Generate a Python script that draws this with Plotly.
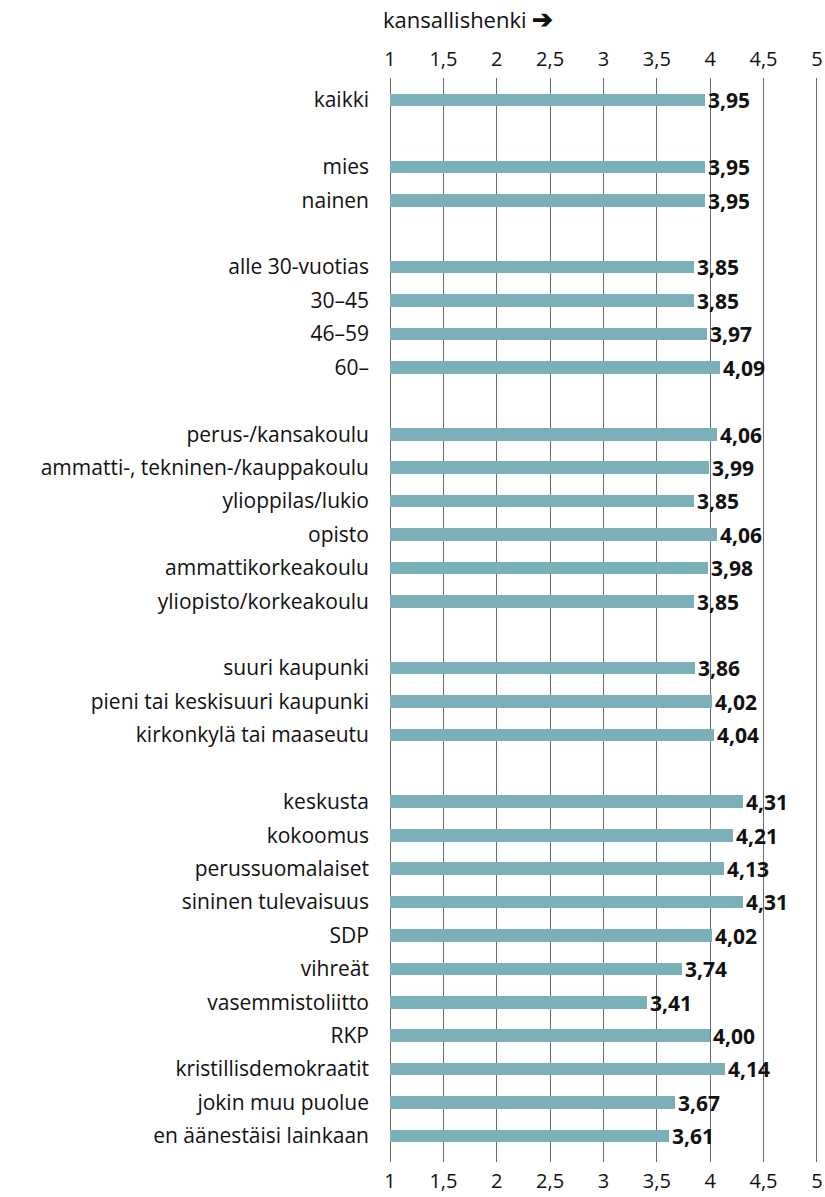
import plotly.graph_objects as go

categories = ["kaikki", "", "mies", "nainen", "",
              "alle 30-vuotias", "30–45", "46–59", "60–", "",
              "perus-/kansakoulu", "ammatti-, tekninen-/kauppakoulu", "ylioppilas/lukio",
              "opisto", "ammattikorkeakoulu", "yliopisto/korkeakoulu", "",
              "suuri kaupunki", "pieni tai keskisuuri kaupunki", "kirkonkylä tai maaseutu", "",
              "keskusta", "kokoomus", "perussuomalaiset", "sininen tulevaisuus", "SDP",
              "vihreät", "vasemmistoliitto", "RKP", "kristillisdemokraatit",
              "jokin muu puolue", "en äänestäisi lainkaan"]
values = [3.95, None, 3.95, 3.95, None,
          3.85, 3.85, 3.97, 4.09, None,
          4.06, 3.99, 3.85, 4.06, 3.98, 3.85, None,
          3.86, 4.02, 4.04, None,
          4.31, 4.21, 4.13, 4.31, 4.02, 3.74, 3.41, 4.00, 4.14, 3.67, 3.61]
tick_vals = [1, 1.5, 2, 2.5, 3, 3.5, 4, 4.5, 5]
tick_text = ["1", "1,5", "2", "2,5", "3", "3,5", "4", "4,5", "5"]
axis_title = "kansallishenki"
bar_base = 1

FONT = "Open Sans"
rows = list(range(len(categories)))
ys = [r for r, v in zip(rows, values) if v is not None]
xs = [v for v in values if v is not None]
labels = [f"{v:.2f}".replace(".", ",") for v in xs]

fig = go.Figure()
fig.add_trace(go.Bar(
    y=ys, x=[v - bar_base for v in xs], base=bar_base, orientation="h",
    marker=dict(color="#7CB0B8", line=dict(width=0)),
    width=0.38,
    text=labels, textposition="outside", cliponaxis=False, constraintext="none",
    textfont=dict(family=FONT, size=21, color="#111111", weight="bold"),
    hoverinfo="skip",
))
fig.add_trace(go.Scatter(x=[1, 5], y=[0, 0], xaxis="x2", mode="markers",
                         marker=dict(opacity=0), hoverinfo="skip", showlegend=False))

# range padded slightly so the edge gridlines at 1 and 5 are drawn
axis_common = dict(range=[0.99, 5.02], tickvals=tick_vals, ticktext=tick_text,
                   zeroline=False, showline=False, ticks="", automargin=False,
                   tickfont=dict(family=FONT, size=20, color="#111111"))
fig.update_layout(
    width=825, height=1197,
    margin=dict(l=389, r=6, t=78, b=35),
    plot_bgcolor="white", paper_bgcolor="white",
    showlegend=False, bargap=0,
    xaxis=dict(side="top", ticklabelstandoff=7, showgrid=True, gridcolor="#6a6a6a",
               gridwidth=1, **axis_common),
    xaxis2=dict(side="bottom", overlaying="x", anchor="y", ticklabelstandoff=5,
                showgrid=False, **axis_common),
    yaxis=dict(range=[31.78, -0.66], tickvals=rows, ticktext=categories,
               showgrid=False, zeroline=False, showline=False, ticks="",
               ticklabelstandoff=19, automargin=False,
               tickfont=dict(family=FONT, size=21, color="#111111")),
    annotations=[dict(text=axis_title + " <b><span style='font-size:25px'>➔</span></b>",
                      xref="paper", yref="paper", x=0, y=1, xshift=-8,
                      yshift=60, xanchor="left", yanchor="middle", showarrow=False,
                      font=dict(family=FONT, size=22, color="#111111"))],
)
fig.write_html("out.html", config={"displayModeBar": False},
               post_script="document.body.style.margin='0';document.body.style.overflow='hidden';")
